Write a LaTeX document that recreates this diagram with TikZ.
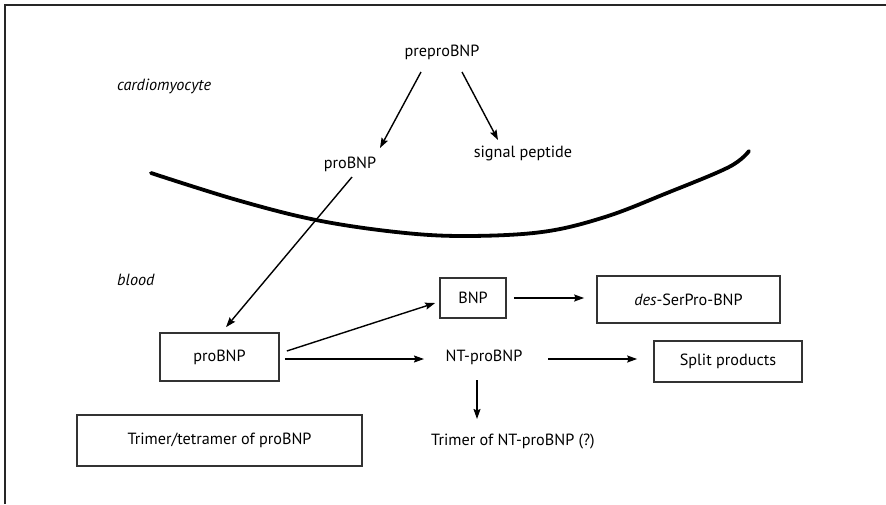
\documentclass[tikz,border=0pt]{standalone}
\usepackage{fontspec}
\setmainfont{PT Sans}
\usetikzlibrary{arrows.meta}
\begin{document}
\begin{tikzpicture}[x=1pt,y=-1pt,
  every node/.style={font=\fontsize{16.2}{19}\selectfont, inner sep=0pt},
  region/.style={font=\fontsize{16.2}{19}\selectfont\itshape},
  pbox/.style={draw=black!80, line width=1.7pt, anchor=center},
  flow/.style={line width=1.4pt, -{Stealth[length=10pt,width=7pt,inset=1.5pt]}},
  membrane/.style={line width=3.8pt, line cap=round, line join=round}]
\useasboundingbox (0,0) rectangle (886,504);
\fill[white] (0,0) rectangle (886,504);

% outer frame (top and left edges)
\draw[line width=2.2pt, black!85] (5,504) -- (5,5) -- (886,5);

% compartment labels
\node[region, anchor=west] (cardio) at (117,86) {cardiomyocyte};
\node[region, anchor=west] (blood) at (117,280) {blood};

% intracellular processing
\node (pre) at (442,52) {preproBNP};
\node (pro1) at (350,164) {proBNP};
\node (sig) at (523,153) {signal peptide};

% cell membrane
\draw[membrane] plot[smooth, tension=0.6] coordinates {
  (151,173) (237,200) (316,220) (396,232) (463,236) (542,232)
  (605,217) (667,193) (729,167) (749,151)};

% circulating forms
\node[pbox, minimum width=119pt, minimum height=48pt] (pro2) at (219.5,357) {proBNP};
\node[pbox, minimum width=66pt, minimum height=40pt] (bnp) at (473,298) {BNP};
\node[pbox, minimum width=183pt, minimum height=47pt] (des) at (688.5,299.5) {\textit{des}-SerPro-BNP};
\node (nt) at (484,357) {NT-proBNP};
\node[pbox, minimum width=148pt, minimum height=41pt] (split) at (728,361.5) {Split products};
\node[pbox, minimum width=285pt, minimum height=51pt] (tri) at (219.5,440.5) {Trimer/tetramer of proBNP};
\node (tnt) at (513,442) {Trimer of NT-proBNP (?)};

% processing steps
\draw[flow] ([shift={(-21,20)}]pre.center) -- ([shift={(30,-16)}]pro1.center);
\draw[flow] ([shift={(20,20)}]pre.center) -- ([shift={(-25,-13)}]sig.center);
\draw[flow] ([shift={(2,13)}]pro1.center) -- ([shift={(6.5,-5)}]pro2.north);
\draw[flow] ([shift={(7,-6)}]pro2.east) -- ([shift={(-4,5)}]bnp.west);
\draw[flow] ([shift={(5,2)}]pro2.east) -- ([shift={(-60,2)}]nt.center);
\draw[flow] ([xshift=7pt]bnp.east) -- ([xshift=-12pt]bnp.east -| des.west);
\draw[flow] ([shift={(64,2)}]nt.center) -- ([shift={(-16,-2.5)}]split.west);
\draw[flow] ([shift={(-7,23)}]nt.center) -- ([shift={(-36,-23)}]tnt.center);
\end{tikzpicture}
\end{document}
